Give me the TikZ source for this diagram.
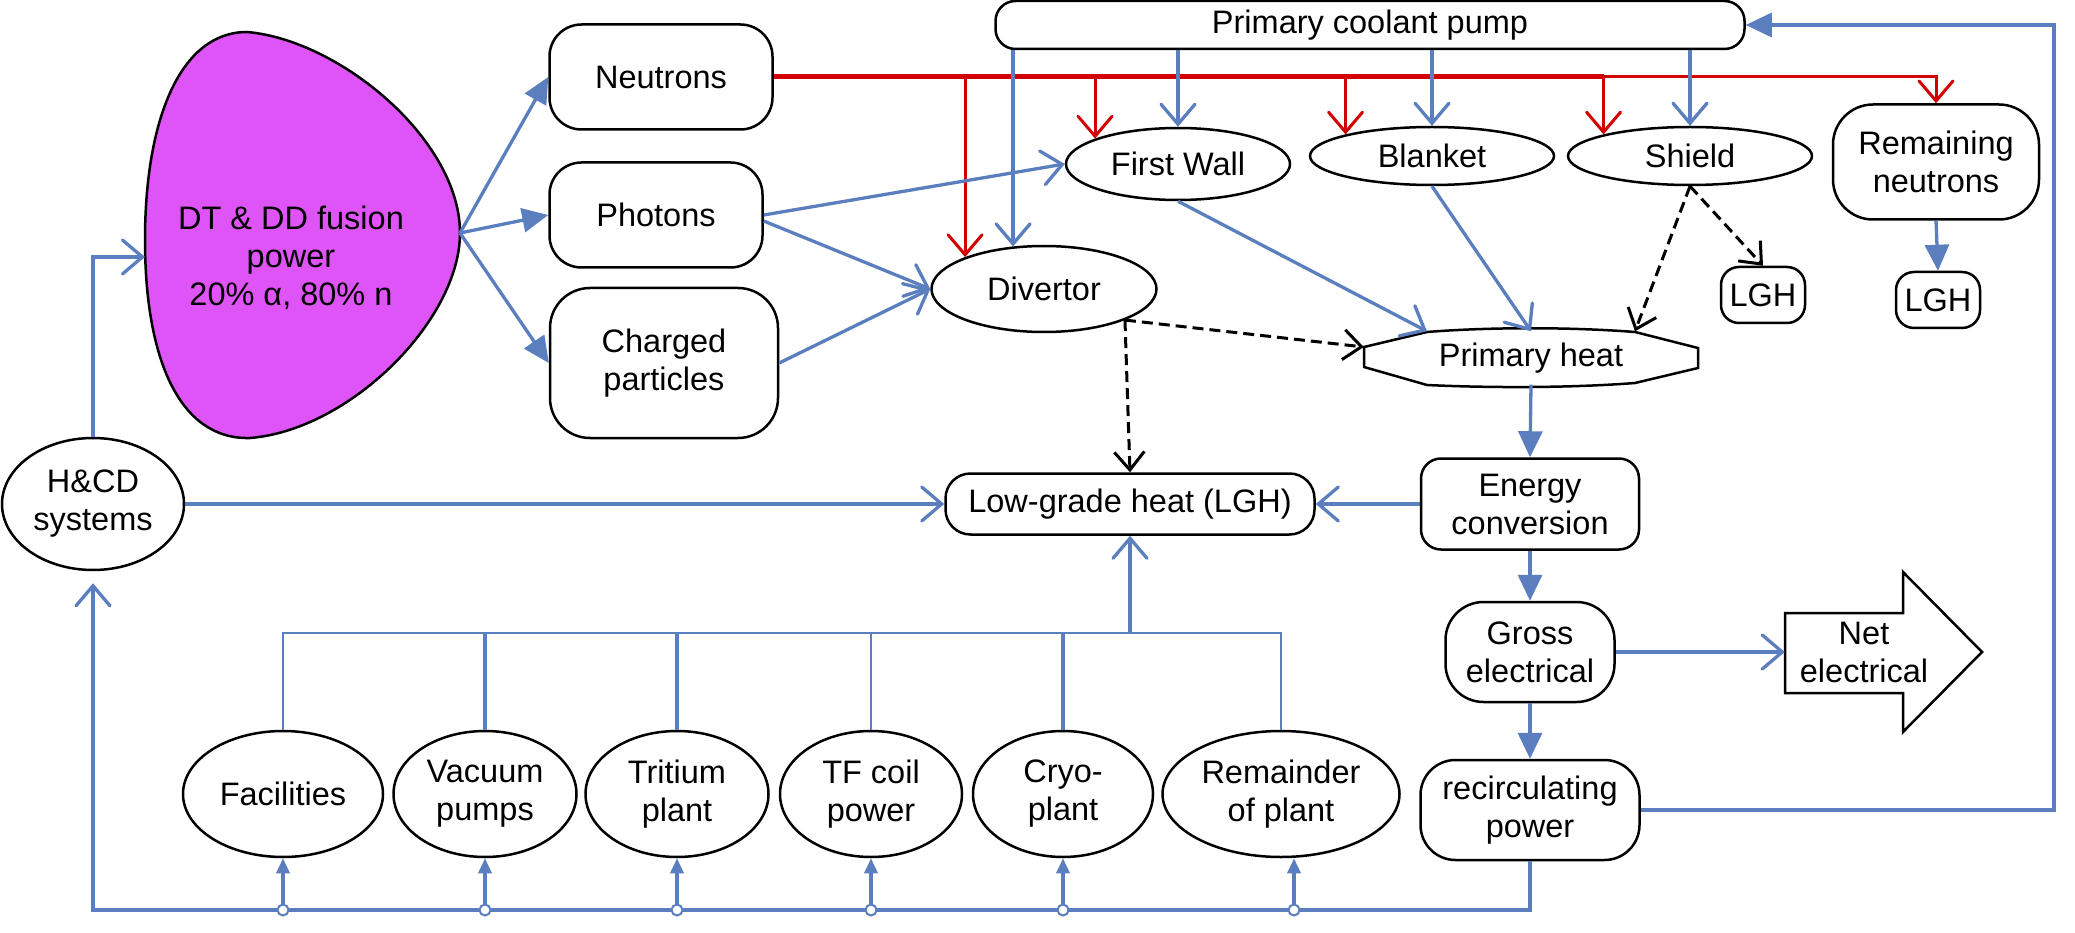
\documentclass[tikz,border=0pt]{standalone}
\usepackage{fontspec}
\setmainfont{Liberation Sans}
\usetikzlibrary{arrows.meta,shapes.geometric}
\definecolor{bluec}{RGB}{91,126,190}
\definecolor{redc}{RGB}{210,0,0}
\definecolor{plasmac}{RGB}{222,84,246}
\begin{document}
\begin{tikzpicture}[x=1pt,y=-1pt,
  font=\fontsize{32.5}{38}\selectfont,
  rbox/.style={draw=black, line width=2.5pt, rounded corners=#1, inner sep=0pt, align=center, fill=white},
  ell/.style={draw=black, ellipse, line width=2.5pt, inner sep=0pt, align=center, fill=white},
  bl/.style={draw=bluec, line width=3.3pt},
  rd/.style={draw=redc, line width=3pt},
  tri/.style={-{Triangle[length=26pt,width=24pt]}},
  stri/.style={-{Triangle[length=15pt,width=13pt]}},
  opn/.style={-{Straight Barb[length=20pt,width=34pt,line cap=round]}},
  dsh/.style={draw=black, line width=3pt, dash pattern=on 11pt off 6pt, -{Straight Barb[length=18pt,width=30pt]}},
  jn/.style={circle, draw=bluec, fill=white, line width=2pt, inner sep=0pt, minimum size=11pt}]
\useasboundingbox[fill=white] (0,0) rectangle (2075,933);

% plasma
\draw[line width=2.5pt, fill=plasmac] (247,32) .. controls (340,40) and (460,140) .. (460,233) .. controls (460,320) and (350,430) .. (250,438) .. controls (180,440) and (145,360) .. (145,240) .. controls (145,120) and (180,32) .. (247,32) -- cycle;
\node[align=center] (plasma) at (291,258) {DT \& DD fusion\\power\\20\% α, 80\% n};
\coordinate (ptip) at (460,233);
\coordinate (pleft) at (145,257);

% nodes
\node[rbox=32pt, minimum width=223pt, minimum height=105pt] (neut) at (661,77) {Neutrons};
\node[rbox=32pt, minimum width=213pt, minimum height=105pt] (phot) at (656,215) {Photons};
\node[rbox=40pt, minimum width=228pt, minimum height=150pt] (charg) at (664,363) {Charged\\particles};
\node[rbox=20pt, minimum width=749pt, minimum height=48pt] (pump) at (1370,25) {Primary coolant pump};
\node[ell, minimum width=224pt, minimum height=72pt] (fw) at (1178,164) {First Wall};
\node[ell, minimum width=244pt, minimum height=58pt] (blanket) at (1432,156) {Blanket};
\node[ell, minimum width=244pt, minimum height=58pt] (shield) at (1690,156) {Shield};
\node[ell, minimum width=225pt, minimum height=86pt] (div) at (1044,289) {Divertor};
\node[rbox=40pt, minimum width=206pt, minimum height=115pt] (remn) at (1936,162) {Remaining\\neutrons};
\node[rbox=18pt, minimum width=84pt, minimum height=56pt] (lgha) at (1763,295) {LGH};
\node[rbox=18pt, minimum width=84pt, minimum height=56pt] (lghb) at (1938,300) {LGH};

\draw[line width=2.5pt, fill=white] (1364,347) -- (1427,332) .. controls (1490,327) and (1570,327) .. (1635,332) -- (1698,348) -- (1698,368) -- (1635,383) .. controls (1570,388) and (1490,388) .. (1427,385) -- (1364,367) -- cycle;
\node[minimum width=334pt, minimum height=53pt, inner sep=0pt] (pheat) at (1531,358) {Primary heat};

\node[rbox=25pt, minimum width=369pt, minimum height=61pt] (lghc) at (1130,504) {Low-grade heat (LGH)};
\node[rbox=20pt, minimum width=218pt, minimum height=91pt] (ec) at (1530,504) {Energy\\conversion};
\node[rbox=38pt, minimum width=169pt, minimum height=100pt] (gross) at (1530,652) {Gross\\electrical};
\node[rbox=35pt, minimum width=219pt, minimum height=100pt] (recirc) at (1530,810) {recirculating\\power};
\node[ell, minimum width=182pt, minimum height=132pt] (hcd) at (93,504) {H\&CD\\systems};

\node[ell, minimum width=200pt, minimum height=126pt] (fac) at (283,794) {Facilities};
\node[ell, minimum width=183pt, minimum height=126pt] (vac) at (485,794) {Vacuum\\pumps};
\node[ell, minimum width=183pt, minimum height=126pt] (trit) at (677,794) {Tritium\\plant};
\node[ell, minimum width=182pt, minimum height=126pt] (tf) at (871,794) {TF coil\\power};
\node[ell, minimum width=180pt, minimum height=126pt] (cryo) at (1063,794) {Cryo-\\plant};
\node[ell, minimum width=237pt, minimum height=126pt] (rem) at (1281,794) {Remainder\\of plant};

% net electrical arrow
\draw[line width=2.5pt, fill=white] (1785,613) -- (1903,613) -- (1903,572) -- (1982,652) -- (1903,732) -- (1903,693) -- (1785,693) -- cycle;
\node[align=center, inner sep=0pt, minimum width=158pt, minimum height=80pt] (net) at (1864,652) {Net\\electrical};

% plasma outputs
\draw[bl, tri] (ptip) -- (neut.west);
\draw[bl, tri] (ptip) -- (phot.west);
\draw[bl, tri] (ptip) -- (charg.west);

% red neutron paths
\draw[draw=redc, line width=5pt] (neut.east) -- (shield.166.5 |- neut.east);
\draw[rd, opn] (shield.166.5 |- neut.east) -| (remn.north);
\draw[rd, opn] (div.158.3 |- neut.east) -- (div.158.3);
\draw[rd, opn] (fw.163.4 |- neut.east) -- (fw.163.4);
\draw[rd, opn] (blanket.166.5 |- neut.east) -- (blanket.166.5);
\draw[rd, opn] (shield.166.5 |- neut.east) -- (shield.166.5);

% coolant pump drops
\draw[bl, opn] (pump.south -| div.126.9) -- (div.126.9);
\draw[bl, opn] (pump.south -| fw.north) -- (fw.north);
\draw[bl, opn] (pump.south -| blanket.north) -- (blanket.north);
\draw[bl, opn] (pump.south -| shield.north) -- (shield.north);

% photons / charged
\draw[bl, opn] (phot.east) -- (fw.west);
\draw[bl, opn] ([yshift=-6pt]phot.east) -- (div.west);
\draw[bl, opn] (charg.east) -- (div.west);

% to primary heat
\draw[bl, opn] (fw.south) -- ([xshift=-104pt]pheat.north);
\draw[bl, opn] (blanket.south) -- (pheat.north);
\draw[dsh] (shield.south) -- ([xshift=104pt]pheat.north);
\draw[dsh] (shield.south) -- (lgha.north);
\draw[dsh] (div.339) -- ([yshift=11pt]pheat.west);
\draw[dsh] (div.339) -- (lghc.north);
\draw[bl, tri] (remn.south) -- (lghb.north);

% energy chain
\draw[bl, tri] (pheat.south) -- (ec.north);
\draw[bl, opn] (ec.west) -- (lghc.east);
\draw[bl, tri] (ec.south) -- (gross.north);
\draw[bl, tri] (gross.south) -- (recirc.north);
\draw[bl, opn] (gross.east) -- (net.west);
\coordinate (rside) at (2054,400);
\draw[bl, tri] (recirc.east) -| (rside) |- (pump.east);

% H&CD
\draw[bl, opn] (hcd.north) |- (pleft);
\draw[bl, opn] (hcd.east) -- (lghc.west);

% bottom distribution
\coordinate (bline) at (93,910);
\draw[bl, opn, shorten >=12pt] (recirc.south) |- (bline) -- (hcd.south);

% collector to LGH
\coordinate (col) at (1130,633);
\draw[bl, line width=2.6pt] (fac.north) |- (rem.north |- col) -- (rem.north);
\draw[bl] (vac.north) -- (vac.north |- col);
\draw[bl] (trit.north) -- (trit.north |- col);
\draw[bl, line width=2.6pt] (tf.north) -- (tf.north |- col);
\draw[bl] (cryo.north) -- (cryo.north |- col);
\draw[bl, opn] (col) -- (lghc.south);

% junctions and small arrows
\node[jn] (j1) at (fac.south |- bline) {};
\node[jn] (j2) at (vac.south |- bline) {};
\node[jn] (j3) at (trit.south |- bline) {};
\node[jn] (j4) at (tf.south |- bline) {};
\node[jn] (j5) at (cryo.south |- bline) {};
\node[jn] (j6) at ([xshift=13pt]rem.south |- bline) {};
\draw[bl, stri] (j1) -- (fac.south);
\draw[bl, stri] (j2) -- (vac.south);
\draw[bl, stri] (j3) -- (trit.south);
\draw[bl, stri] (j4) -- (tf.south);
\draw[bl, stri] (j5) -- (cryo.south);
\draw[bl, stri] (j6) -- (j6 |- rem.south);
\end{tikzpicture}
\end{document}
